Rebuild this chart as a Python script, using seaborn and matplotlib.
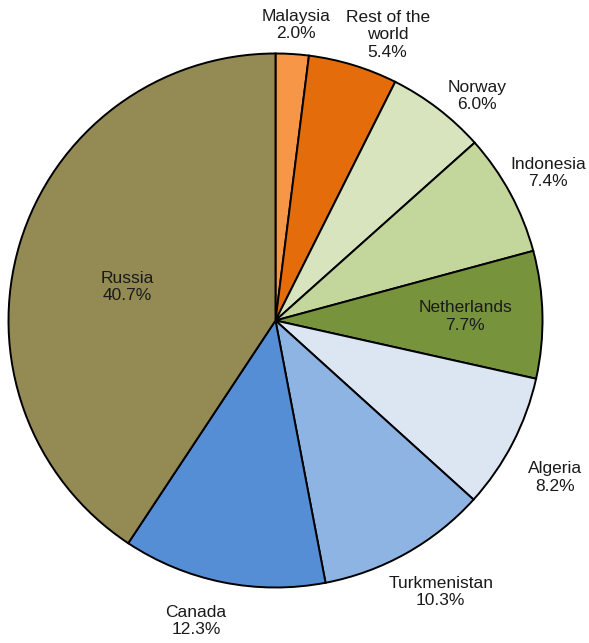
import numpy as np
import matplotlib
matplotlib.use("Agg")
import matplotlib.pyplot as plt
import seaborn as sns

# Natural gas supply shares, clockwise from 12 o'clock
countries = ["Malaysia", "Rest of the\nworld", "Norway", "Indonesia", "Netherlands",
             "Algeria", "Turkmenistan", "Canada", "Russia"]
shares = [2.0, 5.4, 6.0, 7.4, 7.7, 8.2, 10.3, 12.3, 40.7]

colors = ["#F79646", "#E46C0A", "#D7E4BD", "#C3D69B", "#77933C",
          "#DCE6F2", "#8EB4E3", "#558ED5", "#948A54"]
# radial placement of each label (fraction of the radius) and small angular nudges
label_radius = [1.11, 1.15, 1.13, 1.16, 0.71, 1.20, 1.19, 1.165, 0.57]
label_nudge = [0.4, 4.5, 4.5, 0.0, 0.0, 2.0, -2.0, 3.5, -4.0]

sns.set_theme(style="white")
plt.rcParams["font.family"] = ["Liberation Sans", "DejaVu Sans"]

fig = plt.figure(figsize=(5.89, 6.43), dpi=100)
W, H = 589, 643
cx, cy, R = 275.5, 320.5, 267.0
ax = fig.add_axes([(cx - R) / W, (H - cy - R) / H, 2 * R / W, 2 * R / H])

wedges, _ = ax.pie(shares, colors=colors, startangle=90, counterclock=False,
                   radius=1.0, center=(0, 0), frame=False,
                   wedgeprops=dict(edgecolor="black", linewidth=1.4))
ax.set_xlim(-1, 1)
ax.set_ylim(-1, 1)
ax.set_aspect("auto")
ax.axis("off")

for w, name, val, rf, nd in zip(wedges, countries, shares, label_radius, label_nudge):
    mid = np.deg2rad((w.theta1 + w.theta2) / 2 - nd)
    x, y = rf * np.cos(mid), rf * np.sin(mid)
    ax.text(x, y, f"{name}\n{val:.1f}%", ha="center", va="center",
            fontsize=12.5, color="#1a1a1a", linespacing=1.2, clip_on=False)

fig.savefig("out.png", dpi=100, facecolor="white")
